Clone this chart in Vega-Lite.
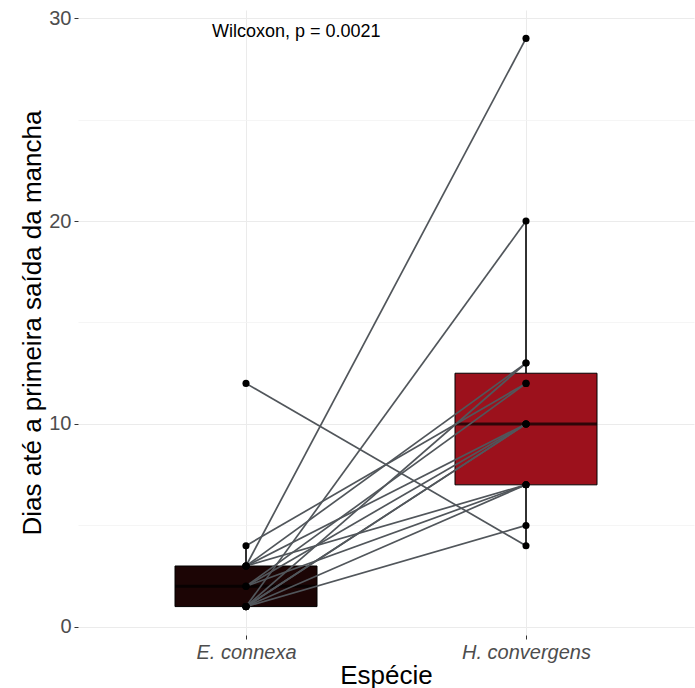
{
  "$schema": "https://vega.github.io/schema/vega-lite/v6.json",
  "width": 616,
  "height": 625,
  "autosize": {"type": "none"},
  "padding": {"left": 78, "top": 10, "right": 1, "bottom": 53},
  "background": "white",
  "config": {
    "view": {"stroke": null},
    "font": "Liberation Sans"
  },
  "datasets": {
    "dias": [
      {"id": 1, "especie": "E. connexa", "dias": 12}, {"id": 1, "especie": "H. convergens", "dias": 4},
      {"id": 2, "especie": "E. connexa", "dias": 3}, {"id": 2, "especie": "H. convergens", "dias": 29},
      {"id": 3, "especie": "E. connexa", "dias": 1}, {"id": 3, "especie": "H. convergens", "dias": 20},
      {"id": 4, "especie": "E. connexa", "dias": 4}, {"id": 4, "especie": "H. convergens", "dias": 12},
      {"id": 5, "especie": "E. connexa", "dias": 1}, {"id": 5, "especie": "H. convergens", "dias": 5},
      {"id": 6, "especie": "E. connexa", "dias": 1}, {"id": 6, "especie": "H. convergens", "dias": 7},
      {"id": 7, "especie": "E. connexa", "dias": 2}, {"id": 7, "especie": "H. convergens", "dias": 7},
      {"id": 8, "especie": "E. connexa", "dias": 3}, {"id": 8, "especie": "H. convergens", "dias": 7},
      {"id": 9, "especie": "E. connexa", "dias": 3}, {"id": 9, "especie": "H. convergens", "dias": 13},
      {"id": 10, "especie": "E. connexa", "dias": 1}, {"id": 10, "especie": "H. convergens", "dias": 13},
      {"id": 11, "especie": "E. connexa", "dias": 1}, {"id": 11, "especie": "H. convergens", "dias": 10},
      {"id": 12, "especie": "E. connexa", "dias": 2}, {"id": 12, "especie": "H. convergens", "dias": 10},
      {"id": 13, "especie": "E. connexa", "dias": 3}, {"id": 13, "especie": "H. convergens", "dias": 10},
      {"id": 14, "especie": "E. connexa", "dias": 1}, {"id": 14, "especie": "H. convergens", "dias": 10},
      {"id": 15, "especie": "E. connexa", "dias": 2}, {"id": 15, "especie": "H. convergens", "dias": 12}
    ]
  },
  "data": {"name": "dias"},
  "encoding": {
    "x": {
      "field": "especie",
      "type": "nominal",
      "scale": {"type": "point", "domain": ["E. connexa", "H. convergens"], "padding": 0.6},
      "axis": {
        "title": "Espécie",
        "labelAngle": 0,
        "labelFontStyle": "italic",
        "labelFontSize": 20,
        "labelColor": "#4d4d4d",
        "labelPadding": 3,
        "tickSize": 4,
        "tickColor": "#333333",
        "domain": false,
        "grid": true,
        "gridColor": "#ebebeb",
        "gridWidth": 1,
        "titleFontSize": 26,
        "titleFontWeight": "normal",
        "titleColor": "black",
        "titlePadding": 0
      }
    },
    "y": {
      "field": "dias",
      "type": "quantitative",
      "scale": {"domain": [-0.4, 30.4], "nice": false, "zero": false},
      "axis": {
        "title": "Dias até a primeira saída da mancha",
        "values": [0, 5, 10, 15, 20, 25, 30],
        "labelExpr": "datum.value % 10 === 0 ? datum.label : ''",
        "labelFontSize": 20,
        "labelColor": "#4d4d4d",
        "labelPadding": 3,
        "tickSize": 4,
        "tickColor": {"condition": {"test": "datum.value % 10 === 0", "value": "#333333"}, "value": "transparent"},
        "domain": false,
        "grid": true,
        "gridColor": {"condition": {"test": "datum.value % 10 === 0", "value": "#ebebeb"}, "value": "#f3f3f3"},
        "gridWidth": {"condition": {"test": "datum.value % 10 === 0", "value": 1.1}, "value": 0.8},
        "titleFontSize": 26,
        "titleFontWeight": "normal",
        "titleColor": "black",
        "titlePadding": 3
      }
    }
  },
  "layer": [
    {
      "transform": [{"filter": "datum.especie === 'E. connexa'"}],
      "mark": {
        "type": "boxplot",
        "extent": 1.5,
        "size": 142,
        "outliers": false,
        "ticks": false,
        "color": "#1c0505",
        "box": {"stroke": "black", "strokeWidth": 1},
        "median": {"color": "black", "thickness": 3},
        "rule": {"color": "black", "strokeWidth": 1.6}
      }
    },
    {
      "transform": [{"filter": "datum.especie === 'H. convergens'"}],
      "mark": {
        "type": "boxplot",
        "extent": 1.5,
        "size": 142,
        "outliers": false,
        "ticks": false,
        "color": "#9c111c",
        "box": {"stroke": "black", "strokeWidth": 1},
        "median": {"color": "black", "thickness": 3},
        "rule": {"color": "black", "strokeWidth": 1.6}
      }
    },
    {
      "mark": {"type": "line", "color": "#51565b", "strokeWidth": 1.7},
      "encoding": {"detail": {"field": "id", "type": "nominal"}}
    },
    {
      "mark": {"type": "circle", "color": "black", "size": 50, "opacity": 1}
    },
    {
      "transform": [{"filter": "datum.id === 1 && datum.especie === 'E. connexa'"}],
      "mark": {"type": "text", "fontSize": 18, "color": "black", "align": "left", "baseline": "middle", "dx": -34, "text": "Wilcoxon, p = 0.0021"},
      "encoding": {
        "y": {"datum": 29.3, "type": "quantitative"}
      }
    }
  ]
}
